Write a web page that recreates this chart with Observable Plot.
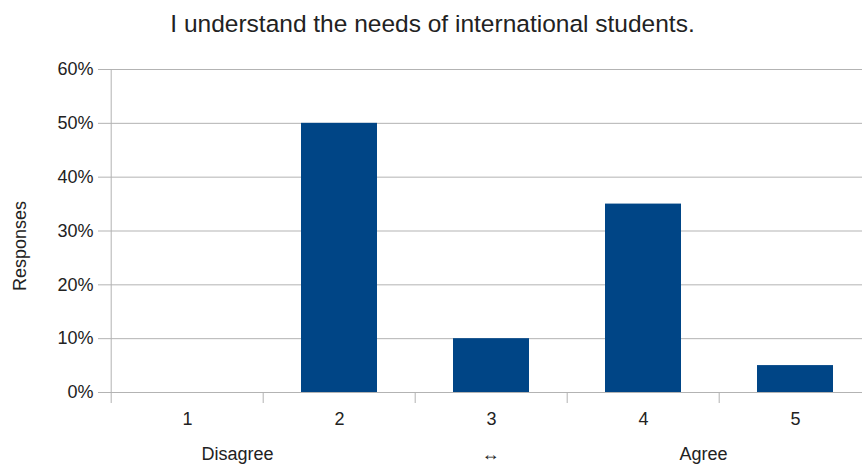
<!DOCTYPE html>
<html>
<head>
<meta charset="utf-8">
<script src="https://cdn.jsdelivr.net/npm/d3@7"></script>
<script src="https://cdn.jsdelivr.net/npm/@observablehq/plot@0.6"></script>
<style>
  html, body { margin: 0; padding: 0; background: #fff; overflow: hidden; }
  #title { height: 48px; font: 24.5px "Liberation Sans", Arial, sans-serif; line-height: 48px; color: #222; text-align: center; width: 862px; padding-left: 3px; box-sizing: border-box; }
  #chart svg { display: block; }
</style>
</head>
<body>
<div id="title">I understand the needs of international students.</div>
<div id="chart"></div>
<script>
const categories = ["1", "2", "3", "4", "5"];
const shares = [0, 0.50, 0.10, 0.35, 0.05];
const yTicks = [0, 0.1, 0.2, 0.3, 0.4, 0.5, 0.6];
const scaleLabels = ["Disagree", "↔", "Agree"];
const scaleLabelAt = ["1", "3", "4"];

const data = categories.map((c, i) => ({cat: c, value: shares[i]}));

const W = 862, H = 417;
const left = 109, right = 872;
const step = (right - left) / categories.length;
const font = '"Liberation Sans", Arial, sans-serif';
const labelShift = [50, -1, 60];

const plot = Plot.plot({
  width: W,
  height: H,
  marginLeft: left,
  marginRight: 0,
  marginTop: 21,
  marginBottom: 73,
  style: {fontFamily: font, fontSize: "18px", color: "#222", background: "#fff"},
  x: {domain: categories, range: [left, right], paddingInner: 0.5, paddingOuter: 0.25, label: null},
  y: {domain: [0, 0.6], label: null},
  marks: [
    Plot.gridY(yTicks, {stroke: "#b3b3b3", strokeOpacity: 1, strokeWidth: 1}),
    Plot.axisY(yTicks, {tickFormat: d3.format(".0%"), tickSize: 11, tickPadding: 5, stroke: "#b3b3b3", fontSize: 18, label: null}),
    Plot.barY(data, {x: "cat", y: "value", fill: "#004586"}),
    Plot.ruleY([0], {stroke: "#b3b3b3"}),
    Plot.ruleX(["1"], {x: d => d, dx: -step / 2, stroke: "#b3b3b3", insetBottom: -11}),
    Plot.ruleX(categories.slice(1), {x: d => d, y1: 0, y2: 0, dx: -step / 2, stroke: "#b3b3b3", insetBottom: -11}),
    Plot.axisX({tickSize: 0, tickPadding: 20, fontSize: 18, label: null}),
    ...scaleLabels.map((t, i) =>
      Plot.text([t], {x: () => scaleLabelAt[i], y: () => 0, text: d => d, dy: 62, dx: labelShift[i], fontSize: 18})
    ),
    Plot.text(["Responses"], {frameAnchor: "left", textAnchor: "middle", dx: -89, dy: 15, rotate: -90, fontSize: 18})
  ]
});
document.getElementById("chart").appendChild(plot);
</script>
</body>
</html>
